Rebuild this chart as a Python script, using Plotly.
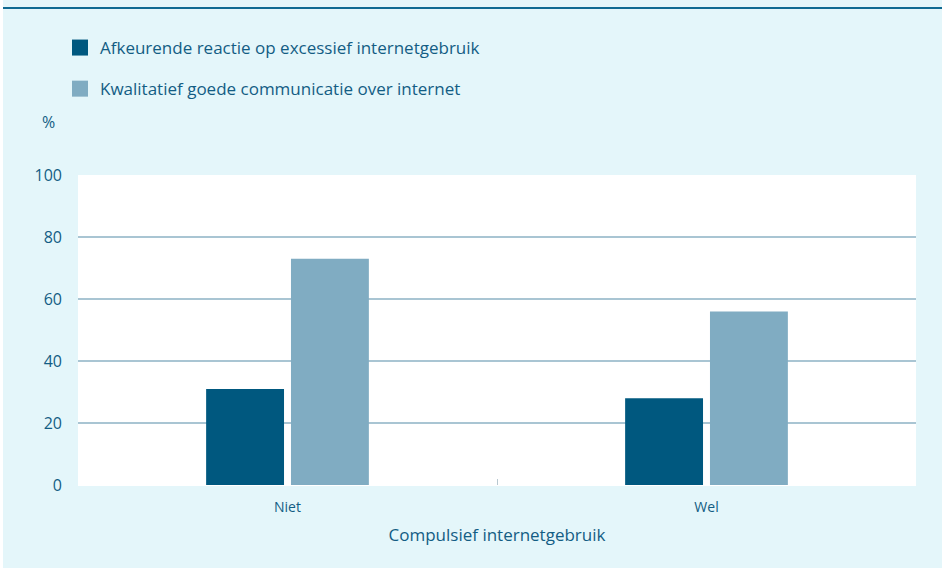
import plotly.graph_objects as go

# Data
categories = ["Niet", "Wel"]
afkeurend = [31, 28]          # Afkeurende reactie op excessief internetgebruik (%)
kwalitatief = [73, 56]        # Kwalitatief goede communicatie over internet (%)
y_ticks = [0, 20, 40, 60, 80, 100]

series_names = [
    "Afkeurende reactie op excessief internetgebruik",
    "Kwalitatief goede communicatie over internet",
]

TEXT = "#135d84"
DARK = "#00587f"
LIGHT = "#80acc2"
GRID = "#a9c5d3"
BG = "#e4f6fa"
FONT = "'Open Sans', Lato, sans-serif"

W, H = 942, 568
L, R, T, B = 78, 26, 175, 83
pw, ph = W - L - R, H - T - B


def px_x(x):
    return (x - L) / pw


def px_y(y):
    return (H - B - y) / ph


fig = go.Figure()
colors = [DARK, LIGHT]
for name, vals, col, grp in zip(series_names, [afkeurend, kwalitatief], colors, ["a", "b"]):
    fig.add_trace(go.Bar(x=categories, y=vals, name=name,
                         marker=dict(color=col, line=dict(width=0)),
                         legendgroup=grp, showlegend=False))
    # legend entry with a larger square swatch
    fig.add_trace(go.Scatter(x=[None], y=[None], mode="markers", name=name,
                             marker=dict(symbol="square", size=16, color=col,
                                         line=dict(width=0)),
                             legendgroup=grp, showlegend=True, hoverinfo="skip"))

fig.update_layout(
    width=W, height=H,
    margin=dict(l=L, r=R, t=T, b=B, pad=0),
    paper_bgcolor=BG,
    plot_bgcolor="white",
    font=dict(family=FONT, color=TEXT, size=16),
    barmode="group",
    bargap=0.595,
    bargroupgap=0.082,
    showlegend=True,
    legend=dict(
        x=px_x(60), y=px_y(30), xanchor="left", yanchor="top",
        orientation="v", bgcolor="rgba(0,0,0,0)", borderwidth=0,
        font=dict(size=17, color=TEXT, family=FONT),
        tracegroupgap=16, traceorder="grouped", itemwidth=30,
        itemsizing="trace",
    ),
    xaxis=dict(
        showgrid=False, zeroline=False, showline=False,
        ticks="inside", tickson="boundaries", ticklen=6, tickcolor="#b8c8d0",
        tickfont=dict(size=14, color=TEXT),
        ticklabelstandoff=12,
        title=dict(text="Compulsief internetgebruik", font=dict(size=17, color=TEXT),
                   standoff=14),
    ),
    yaxis=dict(
        range=[0, 100], tickvals=y_ticks, showgrid=True, gridcolor=GRID, gridwidth=1.5,
        zeroline=True, zerolinecolor="white", zerolinewidth=1,
        showline=False, ticks="", ticklabelstandoff=15,
        tickfont=dict(size=16, color=TEXT),
    ),
    annotations=[
        dict(text="%", x=px_x(48), y=px_y(122), xref="paper", yref="paper",
             showarrow=False, font=dict(size=16, color=TEXT),
             xanchor="center", yanchor="middle"),
    ],
    shapes=[
        # rule across the top of the panel
        dict(type="line", xref="paper", yref="paper",
             x0=px_x(3), x1=px_x(W), y0=px_y(8), y1=px_y(8),
             line=dict(color="#0f6a92", width=2)),
        # thin white strip on the left edge
        dict(type="rect", xref="paper", yref="paper",
             x0=px_x(0), x1=px_x(3), y0=px_y(H), y1=px_y(0),
             fillcolor="white", line=dict(width=0), layer="above"),
    ],
)

fig.write_html("out.html")
